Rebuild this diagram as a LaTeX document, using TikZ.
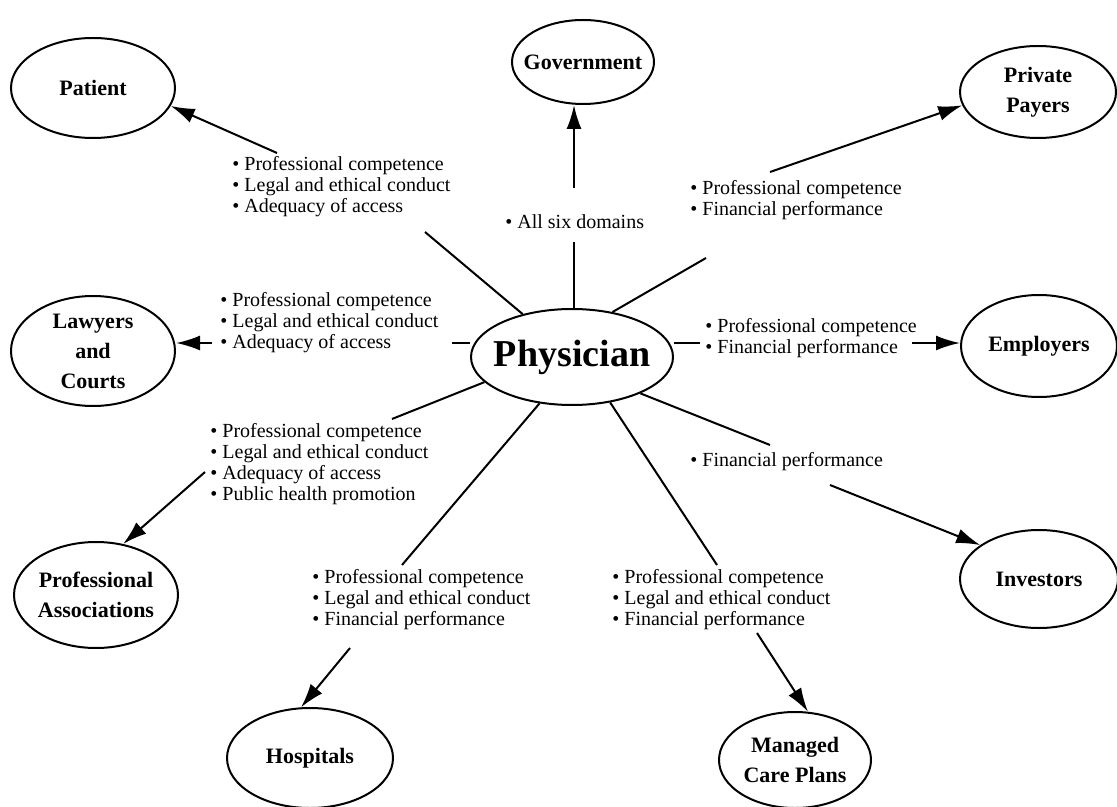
\documentclass[tikz,border=0pt]{standalone}
\usepackage{fontspec}
\setmainfont{Liberation Serif}
\usetikzlibrary{positioning, calc, arrows.meta, shapes.geometric}
\tikzset{party/.style={draw, ellipse, line width=1pt, inner sep=-8pt, align=center, font=\fontsize{11}{15}\selectfont\bfseries}}
\tikzset{duty/.style={anchor=west, align=left, inner sep=0pt, font=\fontsize{10}{10.5}\selectfont}}
\tikzset{tie/.style={line width=1pt}}
\tikzset{give/.style={tie, -{Latex[length=12pt, width=7.5pt]}}}

\begin{document}
\begin{tikzpicture}[x=0.5pt, y=-0.5pt]
      \useasboundingbox (0,0) rectangle (1117,807);

      \node[party, font=\fontsize{19}{22}\selectfont\bfseries, minimum width=101pt, minimum height=48pt] (phys) at (572,357) {Physician};

      \node[party, minimum width=82pt, minimum height=50pt] (pat) at (93,88) {Patient};
      \node[party, minimum width=71pt, minimum height=42pt] (gov) at (583,62) {Government};
      \node[party, minimum width=78pt, minimum height=46pt] (pp) at (1038,92) {Private\\Payers};
      \node[party, minimum width=82pt, minimum height=55pt] (law) at (93,351) {Lawyers\\and\\Courts};
      \node[party, minimum width=78pt, minimum height=51pt] (emp) at (1039,346) {Employers};
      \node[party, minimum width=82pt, minimum height=53pt] (prof) at (96,595) {Professional\\Associations};
      \node[party, minimum width=79pt, minimum height=49pt] (inv) at (1039,579) {Investors};
      \node[party, minimum width=83pt, minimum height=50pt] (hosp) at (310,758) {Hospitals};
      \node[party, minimum width=76pt, minimum height=48pt] (mcp) at (795,760) {Managed\\Care Plans};

      \node[duty] (pat-txt) at (232,187) {\textbullet~Professional competence\\\textbullet~Legal and ethical conduct\\\textbullet~Adequacy of access};
      \node[duty] (gov-txt) at (505,222) {\textbullet~All six domains};
      \node[duty] (pp-txt) at (690,200) {\textbullet~Professional competence\\\textbullet~Financial performance};
      \node[duty] (law-txt) at (220,323) {\textbullet~Professional competence\\\textbullet~Legal and ethical conduct\\\textbullet~Adequacy of access};
      \node[duty] (emp-txt) at (705,338) {\textbullet~Professional competence\\\textbullet~Financial performance};
      \node[duty] (prof-txt) at (210,464) {\textbullet~Professional competence\\\textbullet~Legal and ethical conduct\\\textbullet~Adequacy of access\\\textbullet~Public health promotion};
      \node[duty] (inv-txt) at (690,462) {\textbullet~Financial performance};
      \node[duty] (hosp-txt) at (312,600) {\textbullet~Professional competence\\\textbullet~Legal and ethical conduct\\\textbullet~Financial performance};
      \node[duty] (mcp-txt) at (612,600) {\textbullet~Professional competence\\\textbullet~Legal and ethical conduct\\\textbullet~Financial performance};

      \coordinate (pat-a) at (425,232);
      \coordinate (pat-b) at (277,153);
      \coordinate (gov-a) at (574,242);
      \coordinate (gov-b) at (574,188);
      \coordinate (pp-a) at (706,258);
      \coordinate (pp-b) at (770,172);
      \coordinate (law-a) at (452,343);
      \coordinate (law-b) at (212,343);
      \coordinate (emp-a) at (700,343);
      \coordinate (emp-b) at (912,343);
      \coordinate (prof-a) at (392,419);
      \coordinate (prof-b) at (205,472);
      \coordinate (inv-a) at (770,445);
      \coordinate (inv-b) at (830,485);
      \coordinate (hosp-a) at (402,565);
      \coordinate (hosp-b) at (350,648);
      \coordinate (mcp-a) at (717,565);
      \coordinate (mcp-b) at (757,633);

      \draw[tie] (phys.139) -- (pat-a);
      \draw[give] (pat-b) -- (pat.-13);
      \draw[tie] (gov-a) -- (gov-a |- phys.north);
      \draw[give] (gov-b) -- (gov-b |- gov.south);
      \draw[tie] (phys.48) -- (pp-a);
      \draw[give] (pp-b) -- (pp.190);
      \draw[tie] (law-a) -- (law-a -| phys.west);
      \draw[give] (law-b) -- (law-b -| law.east);
      \draw[tie] (emp-a) -- (emp-a -| phys.east);
      \draw[give] (emp-b) -- (emp-b -| emp.west);
      \draw[tie] (phys.196) -- (prof-a);
      \draw[give] (prof-b) -- (prof.62);
      \draw[tie] (phys.332) -- (inv-a);
      \draw[give] (inv-b) -- (inv.150);
      \draw[tie] (phys.235) -- (hosp-a);
      \draw[give] (hosp-b) -- (hosp.100);
      \draw[tie] (phys.310) -- (mcp-a);
      \draw[give] (mcp-b) -- (mcp.75);
\end{tikzpicture}
\end{document}
